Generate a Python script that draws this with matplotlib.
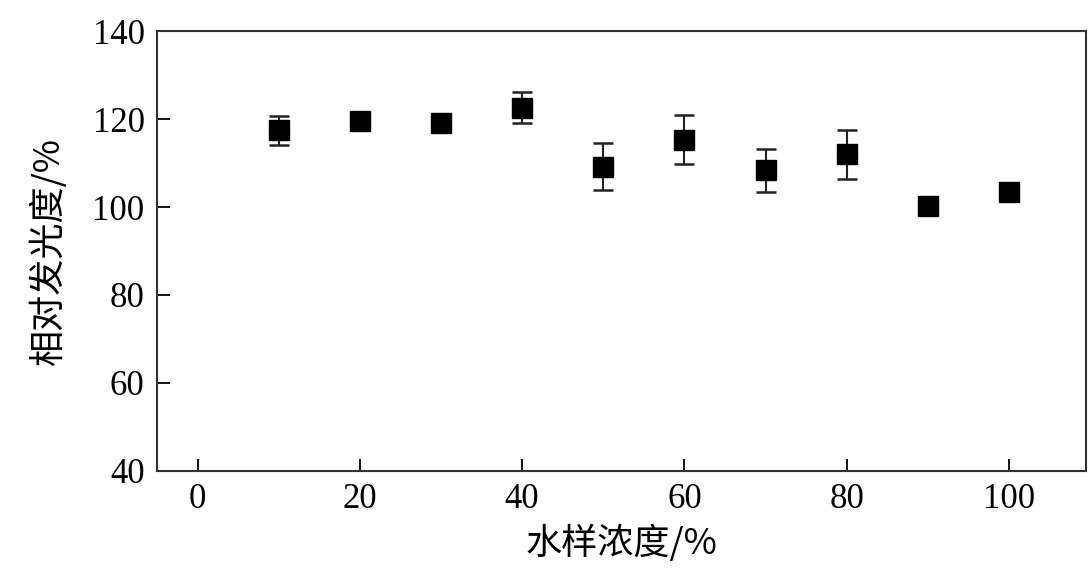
import matplotlib
matplotlib.use("Agg")
import matplotlib.pyplot as plt

concentration = [10, 20, 30, 40, 50, 60, 70, 80, 90, 100]
luminescence = [117.5, 119.6, 119.2, 122.6, 109.2, 115.3, 108.3, 112.0, 100.3, 103.5]
error = [3.3, 0.0, 0.0, 3.5, 5.4, 5.6, 4.8, 5.6, 0.0, 0.0]
xticks = [0, 20, 40, 60, 80, 100]
yticks = [40, 60, 80, 100, 120, 140]

plt.rcParams['font.family'] = ['Liberation Serif', 'Noto Sans CJK SC']

fig = plt.figure(figsize=(10.92, 5.75), dpi=100)
ax = fig.add_axes([0.1438, 0.181, 0.8507, 0.765])

ax.errorbar(concentration, luminescence, yerr=error, fmt='s', color='black',
            markersize=14, ecolor='#222222', elinewidth=1.5, capsize=7, capthick=1.8)

ax.set_xlim(-5, 109.5)
ax.set_ylim(40, 140)
ax.set_xticks(xticks)
ax.set_yticks(yticks)
ax.tick_params(direction='in', length=9, width=1.3, labelsize=25, top=False, right=False, pad=9)
for s in ax.spines.values():
    s.set_linewidth(1.5)
    s.set_color('#333333')

ax.set_xlabel('水样浓度/%', fontsize=26, family=['Noto Sans CJK SC', 'Liberation Serif'], labelpad=6)
ax.set_ylabel('相对发光度/%', fontsize=26, family=['Noto Sans CJK SC', 'Liberation Serif'], labelpad=18)

fig.savefig('out.png', dpi=100)
